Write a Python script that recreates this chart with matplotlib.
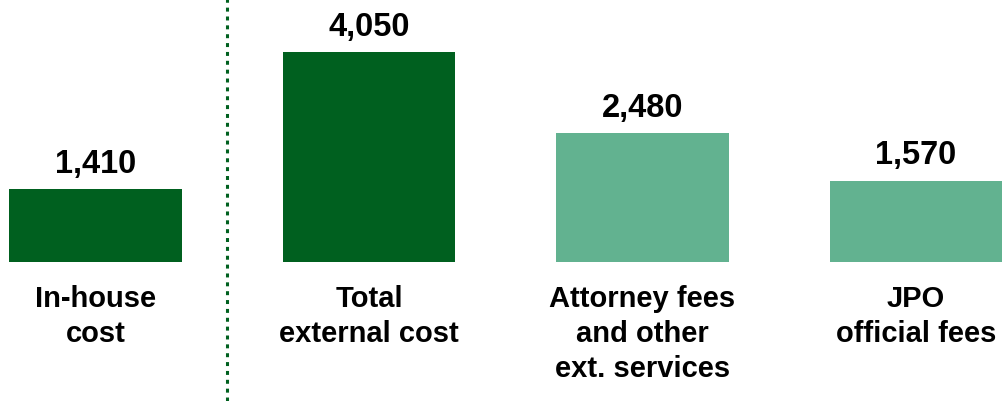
import matplotlib.pyplot as plt

plt.rcParams['font.family'] = ['Liberation Sans', 'DejaVu Sans']

# data
categories = ["In-house\ncost", "Total\nexternal cost",
              "Attorney fees\nand other\next. services", "JPO\nofficial fees"]
values = [1410, 4050, 2480, 1570]
value_labels = ["1,410", "4,050", "2,480", "1,570"]

DARK = "#00601f"
LIGHT = "#62b290"
colors = [DARK, DARK, LIGHT, LIGHT]

fig = plt.figure(figsize=(10.07, 4.02), dpi=100)
ax = fig.add_axes([0, 0, 1, 1])

x = list(range(len(values)))
ax.bar(x, values, width=0.63, color=colors)

# divider between in-house and external
ax.axvline(0.481, color=DARK, linestyle=(0, (1.3, 1.6)), linewidth=2.2)

for xi, v, lab, cat in zip(x, values, value_labels, categories):
    ax.annotate(lab, (xi, v), xytext=(0, 12.5), textcoords="offset points",
                ha="center", va="baseline", fontsize=23.5, fontweight="bold")
    ax.annotate(cat, (xi, 0), xytext=(0, -15.5), textcoords="offset points",
                ha="center", va="top", fontsize=21, fontweight="bold",
                linespacing=1.33)

ax.set_xlim(-0.349, 3.333)
ax.set_ylim(-2681, 5072)
ax.axis("off")

fig.savefig("out.png", dpi=100)
